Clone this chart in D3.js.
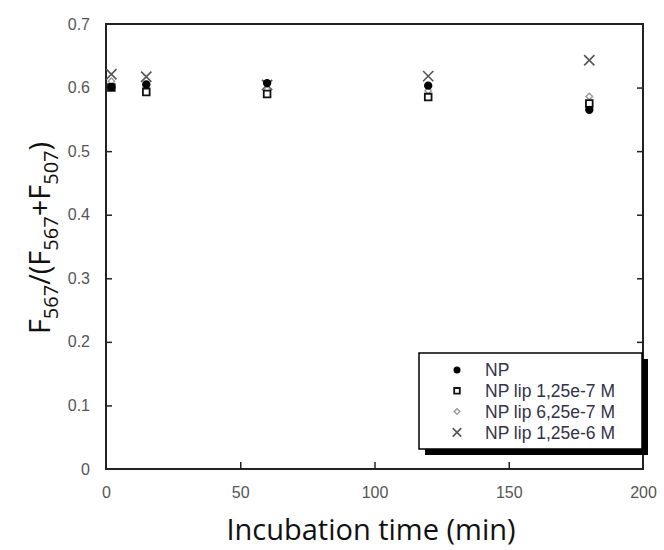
<!DOCTYPE html>
<html>
<head>
<meta charset="utf-8">
<script src="https://cdn.jsdelivr.net/npm/d3@7"></script>
<style>
  body { margin: 0; background: #fff; }
  svg { display: block; }
</style>
</head>
<body>
<div id="chart"></div>
<script>
// data
var tiempos = [2, 15, 60, 120, 180];
var seriesNombres = ["NP", "NP lip 1,25e-7 M", "NP lip 6,25e-7 M", "NP lip 1,25e-6 M"];
var valoresNP = [0.601, 0.605, 0.607, 0.603, 0.565];
var valoresLip1 = [0.600, 0.593, 0.590, 0.585, 0.575];
var valoresLip2 = [0.610, 0.600, 0.597, 0.595, 0.586];
var valoresLip3 = [0.621, 0.617, 0.604, 0.618, 0.643];
var xTicks = [0, 50, 100, 150, 200];
var yTicks = [0, 0.1, 0.2, 0.3, 0.4, 0.5, 0.6, 0.7];

var margin = { top: 24, right: 21, bottom: 81, left: 106 };
var canvas = d3.select("#chart").append("svg").attr("width", 664).attr("height", 550);
var width = 664 - margin.left - margin.right;
var height = 550 - margin.top - margin.bottom;

var xScale = d3.scaleLinear().domain([0, 200]).range([0, width]);
var yScale = d3.scaleLinear().domain([0, 0.7]).range([height, 0]);

var g = canvas.append("g").attr("transform", "translate(" + margin.left + "," + margin.top + ")");

// marco
g.append("rect").attr("width", width).attr("height", height)
    .attr("fill", "none").attr("stroke", "#222").attr("stroke-width", 2);

// ejes (ticks hacia adentro)
var xAxis = g.append("g").attr("transform", "translate(0," + height + ")")
    .call(d3.axisBottom(xScale).tickValues(xTicks).tickSize(-7).tickPadding(18));
var yAxis = g.append("g")
    .call(d3.axisLeft(yScale).tickValues(yTicks).tickSize(-6).tickPadding(16)
        .tickFormat(function (d) { return d === 0 ? "0" : d3.format(".1f")(d); }));
var yAxisR = g.append("g").attr("transform", "translate(" + width + ",0)")
    .call(d3.axisRight(yScale).tickValues(yTicks).tickSize(-6).tickFormat(""));

[xAxis, yAxis, yAxisR].forEach(function (a) {
    a.select(".domain").remove();
    a.selectAll(".tick line").attr("stroke", "#222").attr("stroke-width", 1.5)
        .filter(function (d) { return d === 0 || d === 200 || d === 0.7; }).remove();
    a.selectAll("text").attr("font-family", "Liberation Sans, Arial, sans-serif")
        .attr("font-size", 16).attr("fill", "#555");
});

// estilo de marcador por serie
var estilos = [
    { tipo: d3.symbolCircle, size: 55, rot: 0, fill: "#000", stroke: "none", sw: 0 },
    { tipo: d3.symbolSquare, size: 45, rot: 0, fill: "#fff", stroke: "#111", sw: 1.8 },
    { tipo: d3.symbolSquare, size: 22, rot: 45, fill: "#fff", stroke: "#999", sw: 1.4 },
    { tipo: d3.symbolX, size: 70, rot: 0, fill: "none", stroke: "#555", sw: 1.6 }
];
var todas = [valoresNP, valoresLip1, valoresLip2, valoresLip3];

// orden de dibujo: X, rombo, cuadrado, circulo
[3, 2, 1, 0].forEach(function (s) {
    var e = estilos[s];
    g.selectAll(".pt" + s)
        .data(todas[s])
        .enter().append("path")
        .attr("class", "pt" + s)
        .attr("transform", function (d, i) {
            return "translate(" + xScale(tiempos[i]) + "," + yScale(d) + ") rotate(" + e.rot + ")";
        })
        .attr("d", d3.symbol().type(e.tipo).size(e.size))
        .attr("fill", e.fill).attr("stroke", e.stroke).attr("stroke-width", e.sw);
});

// leyenda con sombra
var leg = g.append("g").attr("transform", "translate(" + (419 - margin.left) + "," + (353 - margin.top) + ")");
leg.append("rect").attr("x", 6).attr("y", 6).attr("width", 223).attr("height", 96).attr("fill", "#000");
leg.append("rect").attr("width", 223).attr("height", 96).attr("fill", "#fff").attr("stroke", "#000").attr("stroke-width", 1.5);

var filas = leg.selectAll(".fila").data(seriesNombres).enter().append("g")
    .attr("class", "fila")
    .attr("transform", function (d, i) { return "translate(0," + (17 + i * 20.8) + ")"; });
filas.append("path")
    .attr("transform", function (d, i) { return "translate(38,0) rotate(" + estilos[i].rot + ")"; })
    .attr("d", function (d, i) { return d3.symbol().type(estilos[i].tipo).size(estilos[i].size * 0.7)(); })
    .attr("fill", function (d, i) { return estilos[i].fill; })
    .attr("stroke", function (d, i) { return estilos[i].stroke; })
    .attr("stroke-width", function (d, i) { return estilos[i].sw; });
filas.append("text")
    .attr("x", 66).attr("dy", "0.35em")
    .attr("font-family", "Liberation Sans, Arial, sans-serif").attr("font-size", 17.5)
    .attr("fill", "#33334a")
    .text(function (d) { return d; });

// titulos de ejes
canvas.append("text")
    .attr("x", 371).attr("y", 540)
    .attr("text-anchor", "middle")
    .attr("font-family", "Open Sans, sans-serif").attr("font-size", 29).attr("fill", "#111")
    .text("Incubation time (min)");

var yt = canvas.append("text")
    .attr("transform", "translate(50,238) rotate(-90)")
    .attr("text-anchor", "middle")
    .attr("font-family", "Open Sans, sans-serif").attr("font-size", 29).attr("fill", "#111");
yt.append("tspan").text("F");
yt.append("tspan").attr("font-size", 20).attr("dy", 8).text("567");
yt.append("tspan").attr("dy", -8).text("/(F");
yt.append("tspan").attr("font-size", 20).attr("dy", 8).text("567");
yt.append("tspan").attr("dy", -8).text("+F");
yt.append("tspan").attr("font-size", 20).attr("dy", 8).text("507");
yt.append("tspan").attr("dy", -8).text(")");
</script>
</body>
</html>
